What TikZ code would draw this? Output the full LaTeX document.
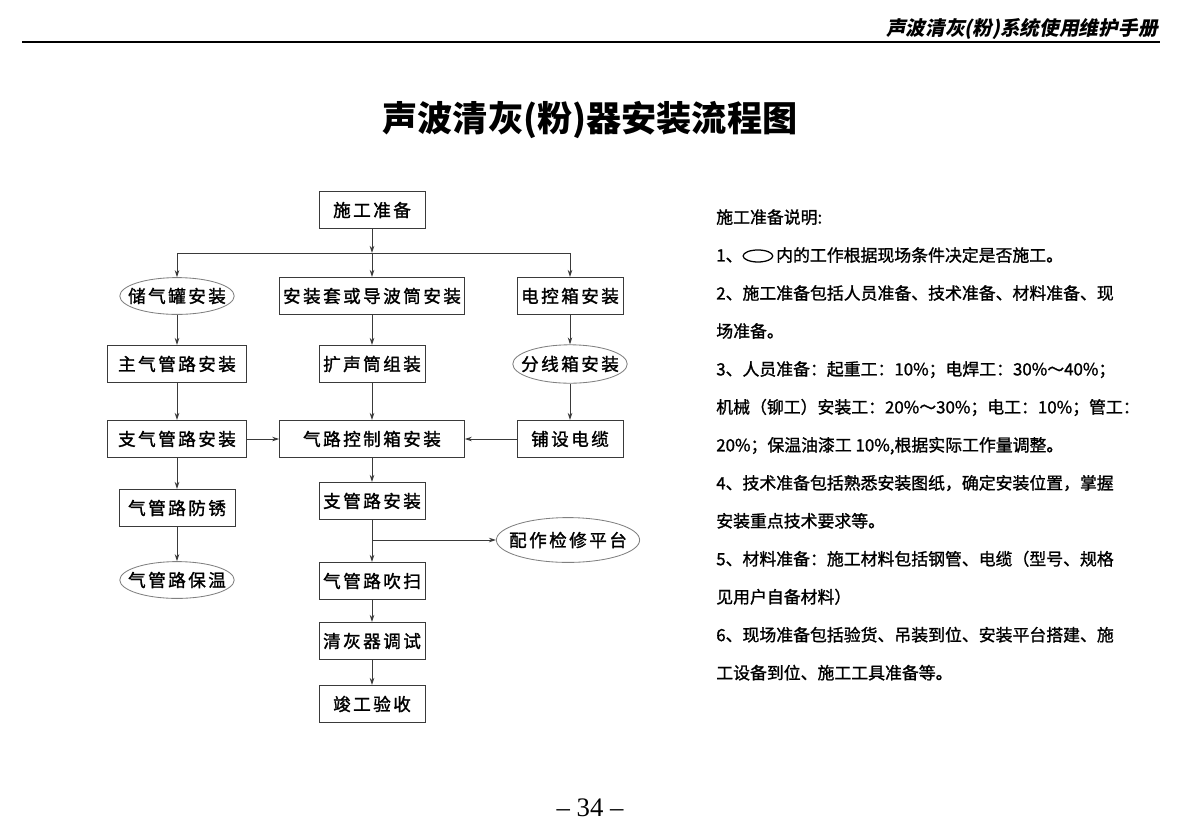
\documentclass[tikz,border=0pt]{standalone}
\usepackage{fontspec}
\usepackage{xcolor}
\usepackage{tikz}
\usetikzlibrary{positioning, arrows.meta, shapes.geometric}
\newfontfamily\cjk{Noto Sans CJK SC}
\newfontfamily\cjknote[FakeBold=1.2]{Noto Sans CJK SC}
\newfontfamily\cjkbox[LetterSpace=14, FakeBold=1.5]{Noto Sans CJK SC}
\newfontfamily\cjkhead[FakeSlant=0.2]{Noto Sans CJK SC}
\newfontfamily\pagefont{Liberation Serif}
\definecolor{linegray}{HTML}{3A3A3A}
\newcommand{\boxfont}{\cjkbox\fontsize{12.5}{14}\selectfont}

\begin{document}
\begin{tikzpicture}[
  x=0.025cm, y=-0.025cm,
  >={Stealth[length=5pt, width=3.2pt]},
  box/.style={draw=linegray, line width=0.6pt, minimum width=2.65cm, minimum height=0.93cm, inner sep=0pt, font=\boxfont},
  wideB/.style={box, minimum width=4.62cm},
  midB/.style={box, minimum width=3.47cm},
  rustB/.style={box, minimum width=2.9cm},
  ellipB/.style={draw=gray, line width=0.6pt, ellipse, minimum width=2.86cm, minimum height=0.92cm, inner sep=0pt, label={[font=\boxfont]center:#1}},
  arr/.style={->, line width=0.6pt, draw=linegray},
  link/.style={line width=0.6pt, draw=linegray}
]
\useasboundingbox (0,0) rectangle (1180,838);

% header and title
\node[anchor=base east, inner sep=0pt, font=\cjkhead\bfseries\fontsize{14}{16}\selectfont] (head) at (1158,35) {声波清灰(粉)系统使用维护手册};
\draw[line width=2pt] (22,42) -- (1160,42);
\node[font=\cjk\bfseries\fontsize{25}{30}\selectfont] (title) at (590,120) {声波清灰(粉)器安装流程图};

% flow chart
\node[box] (prep) at (372,210) {施工准备};
\node[ellipB=储气罐安装] (tank) at (177,296) {};
\node[wideB] (sleeve) at (372,296) {安装套或导波筒安装};
\node[box] (ctrl) at (570,296) {电控箱安装};
\node[midB] (mainp) at (177,364) {主气管路安装};
\node[box] (horn) at (372,364) {扩声筒组装};
\node[ellipB=分线箱安装, minimum height=0.96cm] (split) at (570,364) {};
\node[midB] (branchp) at (177,439) {支气管路安装};
\node[wideB] (airbox) at (372,439) {气路控制箱安装};
\node[box] (cable) at (570,439) {铺设电缆};
\node[rustB] (rust) at (177,508) {气管路防锈};
\node[box] (subp) at (372,501) {支管路安装};
\node[ellipB=配作检修平台, minimum width=3.58cm, minimum height=1.12cm] (platform) at (568,540) {};
\node[ellipB=气管路保温] (insul) at (177,580) {};
\node[box] (purge) at (372,581) {气管路吹扫};
\node[box] (debug) at (372,641) {清灰器调试};
\node[box] (accept) at (372,704) {竣工验收};

\coordinate (jc) at (372,253);
\coordinate (jl) at (177,253);
\coordinate (jr) at (570,253);
\coordinate (jp) at (372,540);

\draw[arr] (prep) -- (jc);
\draw[link] (jl) -- (jr);
\draw[arr] (jl) -- (tank);
\draw[arr] (jc) -- (sleeve);
\draw[arr] (jr) -- (ctrl);
\draw[arr] (tank) -- (mainp);
\draw[arr] (mainp) -- (branchp);
\draw[arr] (branchp) -- (rust);
\draw[arr] (rust) -- (insul);
\draw[arr] (sleeve) -- (horn);
\draw[arr] (horn) -- (airbox);
\draw[arr] (airbox) -- (subp);
\draw[arr] (subp) -- (purge);
\draw[arr] (purge) -- (debug);
\draw[arr] (debug) -- (accept);
\draw[arr] (jp) -- (platform);
\draw[arr] (ctrl) -- (split);
\draw[arr] (split) -- (cable);
\draw[arr] (branchp) -- (airbox);
\draw[arr] (cable) -- (airbox);

% notes
\node[anchor=north west, inner sep=0pt, align=left, font=\cjknote\fontsize{12}{27}\selectfont] (notes) at (716,209) {%
施工准备说明:\\
1、\tikz[baseline=-0.6ex]\draw[line width=0.9pt] (0,0) ellipse (0.37cm and 0.15cm);\,内的工作根据现场条件决定是否施工。\\
2、施工准备包括人员准备、技术准备、材料准备、现\\
场准备。\\
3、人员准备：起重工：10\%；电焊工：30\%～40\%；\\
机械（铆工）安装工：20\%～30\%；电工：10\%；管工：\\
20\%；保温油漆工 10\%,根据实际工作量调整。\\
4、技术准备包括熟悉安装图纸，确定安装位置，掌握\\
安装重点技术要求等。\\
5、材料准备：施工材料包括钢管、电缆（型号、规格\\
见用户自备材料）\\
6、现场准备包括验货、吊装到位、安装平台搭建、施\\
工设备到位、施工工具准备等。};

\node[font=\pagefont\fontsize{19}{22}\selectfont] (page) at (590,808) {– 34 –};
\end{tikzpicture}
\end{document}
